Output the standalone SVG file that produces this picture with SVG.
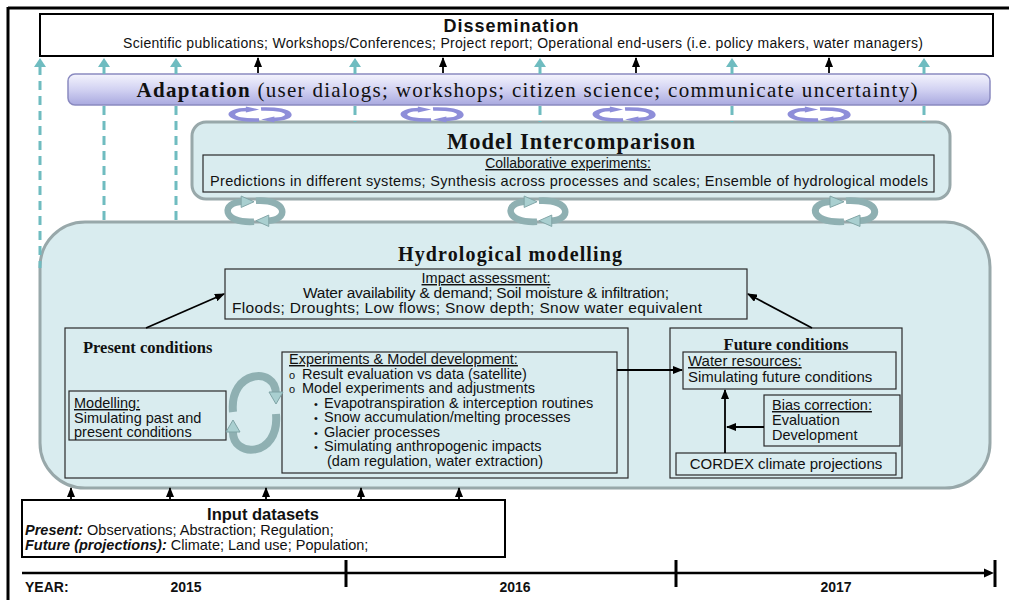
<svg xmlns="http://www.w3.org/2000/svg" width="1009" height="600" viewBox="0 0 1009 600">
<style>
.sans{font-family:"Liberation Sans",Arial,sans-serif;fill:#111}
.serif{font-family:"Liberation Serif","Times New Roman",serif;fill:#111}
.big{fill:#d9ecef;stroke:#98a8aa;stroke-width:3}
.box{fill:#d9ecef;stroke:#2a2a2a;stroke-width:1.2}
.ln{stroke:#000;stroke-width:1.8;fill:none}
.dash{stroke:#6fbcc0;stroke-width:3;stroke-dasharray:9 6;fill:none}
.tsolid{stroke:#6fbcc0;stroke-width:3;fill:none}
.thead{fill:#6fbcc0}
.u{text-decoration:underline}
</style>
<defs>
<linearGradient id="adg" x1="0" y1="0" x2="0" y2="1">
<stop offset="0" stop-color="#f4f4fd"/>
<stop offset="0.5" stop-color="#d2d2f2"/>
<stop offset="1" stop-color="#a9a9df"/>
</linearGradient>
<marker id="ah" markerUnits="userSpaceOnUse" markerWidth="10" markerHeight="8" refX="9" refY="4" orient="auto">
<path d="M0,0 L10,4 L0,8 z" fill="#000"/>
</marker>
<g id="tcyc">
<path d="M37 26 C1 28 1 5 25 5" stroke="#8fb0b2" stroke-width="7" fill="none"/>
<polygon points="23,-1 37,5 23,11" fill="#a9cfd0" stroke="#7fa3a5" stroke-width="1"/>
<g transform="rotate(180 38 15)">
<path d="M37 26 C1 28 1 5 25 5" stroke="#8fb0b2" stroke-width="7" fill="none"/>
<polygon points="23,-1 37,5 23,11" fill="#a9cfd0" stroke="#7fa3a5" stroke-width="1"/>
</g>
</g>
<g id="pcyc">
<path d="M37 26 C1 28 1 5 25 5" stroke="#8e8ed9" stroke-width="7" fill="none"/>
<polygon points="23,-1 37,5 23,11" fill="#8e8ed9"/>
<g transform="rotate(180 38 15)">
<path d="M37 26 C1 28 1 5 25 5" stroke="#8e8ed9" stroke-width="7" fill="none"/>
<polygon points="23,-1 37,5 23,11" fill="#8e8ed9"/>
</g>
</g>
</defs>

<rect x="0" y="0" width="1009" height="600" fill="#fff"/>
<g id="frame">
<line x1="8" y1="8" x2="1009" y2="8" stroke="#000" stroke-width="3"/>
<line x1="8" y1="7" x2="8" y2="600" stroke="#000" stroke-width="3"/>
</g>

<g id="dissemination">
<rect x="40" y="14" width="953" height="42" fill="#fff" stroke="#000" stroke-width="2"/>
<text class="sans" x="511" y="32" font-size="18" font-weight="bold" text-anchor="middle" textLength="135">Dissemination</text>
<text class="sans" x="523" y="48" font-size="14" text-anchor="middle" textLength="800">Scientific publications; Workshops/Conferences; Project report; Operational end-users (i.e. policy makers, water managers)</text>
</g>

<g id="adaptation">
<rect x="68" y="74" width="922" height="31" rx="7" fill="url(#adg)" stroke="#8a8ac0" stroke-width="1.5"/>
<text class="serif" x="527" y="97" font-size="21" text-anchor="middle" textLength="781"><tspan font-weight="bold">Adaptation</tspan> (user dialogs; workshops; citizen science; communicate uncertainty)</text>
</g>

<g id="model-intercomparison">
<rect class="big" x="192" y="122" width="758" height="77" rx="14"/>
<text class="serif" x="571" y="149" font-size="22.5" font-weight="bold" text-anchor="middle" textLength="248">Model Intercomparison</text>
<rect class="box" x="203" y="155" width="731" height="37"/>
<text class="sans u" x="568" y="168" font-size="14" text-anchor="middle">Collaborative experiments:</text>
<text class="sans" x="569" y="186" font-size="14.5" text-anchor="middle" textLength="718">Predictions in different systems; Synthesis across processes and scales; Ensemble of hydrological models</text>
</g>

<g id="hydrological-modelling">
<rect class="big" x="40" y="222" width="950" height="266" rx="45"/>
<text class="serif" x="510" y="261" font-size="20" font-weight="bold" text-anchor="middle" textLength="224">Hydrological modelling</text>
</g>

<g id="impact-assessment">
<rect class="box" x="225" y="269" width="522" height="50"/>
<text class="sans u" x="486" y="283" font-size="14.5" text-anchor="middle">Impact assessment:</text>
<text class="sans" x="486" y="298" font-size="15.5" text-anchor="middle" textLength="366">Water availability &amp; demand; Soil moisture &amp; infiltration;</text>
<text class="sans" x="467" y="313" font-size="15.5" text-anchor="middle" textLength="470">Floods; Droughts; Low flows; Snow depth; Snow water equivalent</text>
</g>

<g id="present-conditions">
<rect class="box" x="65" y="328" width="563" height="150"/>
<text class="serif" x="83" y="353" font-size="16.5" font-weight="bold">Present conditions</text>
</g>

<g id="modelling">
<rect class="box" x="69" y="391" width="157" height="49"/>
<text class="sans u" x="74" y="408" font-size="14.5">Modelling:</text>
<text class="sans" x="74" y="422.5" font-size="14.5">Simulating past and</text>
<text class="sans" x="74" y="437" font-size="14.5">present conditions</text>
</g>

<g id="experiments">
<rect class="box" x="282" y="352" width="335" height="121"/>
<text class="sans u" x="289" y="364" font-size="14.5">Experiments &amp; Model development:</text>
<text class="sans" y="378.5" font-size="14.5"><tspan x="289" font-size="11">o</tspan><tspan x="302">Result evaluation vs data (satellite)</tspan></text>
<text class="sans" y="393" font-size="14.5"><tspan x="289" font-size="11">o</tspan><tspan x="302">Model experiments and adjustments</tspan></text>
<text class="sans" y="407.5" font-size="14.5"><tspan x="314" font-size="11">•</tspan><tspan x="324">Evapotranspiration &amp; interception routines</tspan></text>
<text class="sans" y="422" font-size="14.5"><tspan x="314" font-size="11">•</tspan><tspan x="324">Snow accumulation/melting processes</tspan></text>
<text class="sans" y="436.5" font-size="14.5"><tspan x="314" font-size="11">•</tspan><tspan x="324">Glacier processes</tspan></text>
<text class="sans" y="451" font-size="14.5"><tspan x="314" font-size="11">•</tspan><tspan x="324">Simulating anthropogenic impacts</tspan></text>
<text class="sans" x="327" y="465.5" font-size="14.5">(dam regulation, water extraction)</text>
</g>

<g id="future-conditions">
<rect class="box" x="670" y="328" width="232" height="150"/>
<text class="serif" x="786" y="350" font-size="16.5" font-weight="bold" text-anchor="middle">Future  conditions</text>
</g>

<g id="water-resources">
<rect class="box" x="683" y="352" width="213" height="37"/>
<text class="sans u" x="688" y="366" font-size="15">Water resources:</text>
<text class="sans" x="688" y="382" font-size="15">Simulating future conditions</text>
</g>

<g id="bias-correction">
<rect class="box" x="764" y="395" width="136" height="51"/>
<text class="sans u" x="772" y="410" font-size="14.5">Bias correction:</text>
<text class="sans" x="772" y="425" font-size="14.5">Evaluation</text>
<text class="sans" x="772" y="440" font-size="14.5">Development</text>
</g>

<g id="cordex">
<rect class="box" x="676" y="453" width="220" height="22"/>
<text class="sans" x="786" y="469" font-size="15" text-anchor="middle">CORDEX climate projections</text>
</g>

<g id="input-datasets">
<rect x="22" y="500" width="483" height="57" fill="#fff" stroke="#000" stroke-width="2"/>
<text class="sans" x="263" y="520" font-size="16.5" font-weight="bold" text-anchor="middle">Input  datasets</text>
<text class="sans" x="25" y="535" font-size="14.5"><tspan font-weight="bold" font-style="italic">Present:</tspan> Observations; Abstraction; Regulation;</text>
<text class="sans" x="25" y="550" font-size="14.5"><tspan font-weight="bold" font-style="italic">Future (projections):</tspan> Climate; Land use; Population;</text>
</g>

<g id="timeline">
<line x1="22" y1="573" x2="986" y2="573" stroke="#000" stroke-width="2.5"/>
<polygon points="984,568.5 994,573 984,577.5" fill="#000"/>
<line x1="995" y1="560" x2="995" y2="587" stroke="#000" stroke-width="3"/>
<line x1="346" y1="560" x2="346" y2="587" stroke="#000" stroke-width="3"/>
<line x1="676" y1="560" x2="676" y2="587" stroke="#000" stroke-width="3"/>
<text class="sans" x="25" y="592" font-size="14" font-weight="bold">YEAR:</text>
<text class="sans" x="186" y="592" font-size="14" font-weight="bold" text-anchor="middle">2015</text>
<text class="sans" x="515" y="592" font-size="14" font-weight="bold" text-anchor="middle">2016</text>
<text class="sans" x="836" y="592" font-size="14" font-weight="bold" text-anchor="middle">2017</text>
</g>

<g id="connectors">
<path class="dash" d="M40 66 V268"/>
<path class="tsolid" d="M104 66 V74"/><path class="dash" d="M104 106 V222"/>
<path class="tsolid" d="M176 66 V74"/><path class="dash" d="M176 106 V222"/>
<path class="tsolid" d="M355 66 V74"/><path class="dash" d="M355 106 V122"/>
<path class="tsolid" d="M540 66 V74"/><path class="dash" d="M540 106 V122"/>
<path class="tsolid" d="M732 66 V74"/><path class="dash" d="M732 106 V122"/>
<path class="tsolid" d="M924 66 V74"/><path class="dash" d="M924 106 V122"/>
<polygon class="thead" points="34,67 46,67 40,58"/>
<polygon class="thead" points="98,67 110,67 104,58"/>
<polygon class="thead" points="170,67 182,67 176,58"/>
<polygon class="thead" points="349,67 361,67 355,58"/>
<polygon class="thead" points="534,67 546,67 540,58"/>
<polygon class="thead" points="726,67 738,67 732,58"/>
<polygon class="thead" points="918,67 930,67 924,58"/>
<line class="ln" x1="258" y1="73" x2="258" y2="58" marker-end="url(#ah)"/>
<line class="ln" x1="443" y1="73" x2="443" y2="58" marker-end="url(#ah)"/>
<line class="ln" x1="636" y1="73" x2="636" y2="58" marker-end="url(#ah)"/>
<line class="ln" x1="829" y1="73" x2="829" y2="58" marker-end="url(#ah)"/>
<use href="#pcyc" transform="translate(224,107) scale(0.95,0.5)"/>
<use href="#pcyc" transform="translate(396,107) scale(0.95,0.5)"/>
<use href="#pcyc" transform="translate(588,107) scale(0.95,0.5)"/>
<use href="#pcyc" transform="translate(783,107) scale(0.95,0.5)"/>
<use href="#tcyc" transform="translate(220,197) scale(0.92,0.95)"/>
<use href="#tcyc" transform="translate(503,197) scale(0.92,0.95)"/>
<use href="#tcyc" transform="translate(807,197) scale(1,0.95)"/>
<path d="M233 412 C229 370 276 366 276 394" stroke="#8fb0b2" stroke-width="8" fill="none"/>
<polygon points="269,392 283,392 276,404" fill="#a9cfd0" stroke="#7fa3a5" stroke-width="1"/>
<path d="M276 414 C280 458 231 459 233 430" stroke="#8fb0b2" stroke-width="8" fill="none"/>
<polygon points="226,432 240,432 233,420" fill="#a9cfd0" stroke="#7fa3a5" stroke-width="1"/>
<line class="ln" x1="146" y1="328" x2="224" y2="294" marker-end="url(#ah)"/>
<line class="ln" x1="812" y1="328" x2="748" y2="294" marker-end="url(#ah)"/>
<line class="ln" x1="617" y1="370" x2="682" y2="370" marker-end="url(#ah)"/>
<line class="ln" x1="725" y1="453" x2="725" y2="390" marker-end="url(#ah)"/>
<line class="ln" x1="764" y1="427" x2="727" y2="427" marker-end="url(#ah)"/>
<line class="ln" x1="71" y1="500" x2="71" y2="488" marker-end="url(#ah)"/>
<line class="ln" x1="170" y1="500" x2="170" y2="488" marker-end="url(#ah)"/>
<line class="ln" x1="266" y1="500" x2="266" y2="488" marker-end="url(#ah)"/>
<line class="ln" x1="361" y1="500" x2="361" y2="488" marker-end="url(#ah)"/>
<line class="ln" x1="459" y1="500" x2="459" y2="488" marker-end="url(#ah)"/>
</g>
</svg>
